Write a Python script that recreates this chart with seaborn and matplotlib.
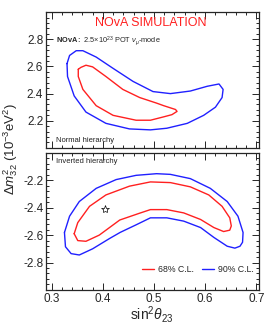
import numpy as np
import pandas as pd
import matplotlib
matplotlib.use("Agg")
import matplotlib.pyplot as plt
import matplotlib.ticker as ticker
import seaborn as sns

# Contours (sin^2 theta23, dm^2_32)
nh90_x = [0.330, 0.335, 0.348, 0.361, 0.387, 0.420, 0.459, 0.498, 0.532, 0.571, 0.604, 0.627, 0.635, 0.633,
          0.620, 0.597, 0.565, 0.525, 0.493, 0.452, 0.406, 0.367, 0.344, 0.331]
nh90_y = [2.621, 2.681, 2.716, 2.716, 2.669, 2.586, 2.490, 2.415, 2.400, 2.419, 2.454, 2.471, 2.431, 2.371,
          2.300, 2.240, 2.181, 2.145, 2.133, 2.140, 2.181, 2.264, 2.383, 2.526]
nh68_x = [0.352, 0.357, 0.367, 0.380, 0.406, 0.439, 0.472, 0.505, 0.519, 0.542, 0.545, 0.535, 0.519, 0.493,
          0.465, 0.420, 0.387, 0.361, 0.352]
nh68_y = [2.579, 2.593, 2.609, 2.597, 2.526, 2.431, 2.371, 2.330, 2.311, 2.283, 2.269, 2.245, 2.229, 2.204,
          2.204, 2.240, 2.311, 2.431, 2.526]

ih90_x = [0.325, 0.335, 0.354, 0.387, 0.426, 0.465, 0.505, 0.532, 0.571, 0.610, 0.643, 0.664, 0.674, 0.673,
          0.668, 0.658, 0.643, 0.617, 0.591, 0.558, 0.525, 0.493, 0.465, 0.434, 0.413, 0.380, 0.354, 0.338,
          0.327]
ih90_y = [-2.581, -2.462, -2.355, -2.259, -2.195, -2.164, -2.152, -2.157, -2.188, -2.259, -2.355, -2.462,
          -2.581, -2.652, -2.681, -2.695, -2.681, -2.617, -2.545, -2.498, -2.474, -2.474, -2.525, -2.580,
          -2.625, -2.700, -2.745, -2.735, -2.685]
ih68_x = [0.344, 0.351, 0.374, 0.406, 0.452, 0.493, 0.532, 0.571, 0.607, 0.633, 0.648, 0.651, 0.648, 0.636,
          0.617, 0.591, 0.558, 0.525, 0.493, 0.472, 0.433, 0.393, 0.367, 0.351]
ih68_y = [-2.590, -2.509, -2.390, -2.307, -2.243, -2.212, -2.217, -2.248, -2.307, -2.390, -2.474, -2.533,
          -2.564, -2.574, -2.545, -2.486, -2.438, -2.414, -2.414, -2.440, -2.490, -2.600, -2.645, -2.640]

best_fit_x = [0.405]
best_fit_y = [-2.409]

x_ticks = [0.3, 0.4, 0.5, 0.6, 0.7]
nh_ticks = [2.2, 2.4, 2.6, 2.8]
ih_ticks = [-2.8, -2.6, -2.4, -2.2]

sns.set_style("ticks")
plt.rcParams["font.family"] = ["Liberation Sans", "DejaVu Sans"]
plt.rcParams["mathtext.fontset"] = "custom"
plt.rcParams["mathtext.rm"] = "Liberation Sans"
plt.rcParams["mathtext.it"] = "Liberation Sans:italic"
plt.rcParams["mathtext.bf"] = "Liberation Sans:bold"
plt.rcParams["axes.unicode_minus"] = False

fig = plt.figure(figsize=(2.74, 3.28), dpi=100)
ax1 = fig.add_axes([0.168, 0.549, 0.777, 0.414])
ax2 = fig.add_axes([0.168, 0.116, 0.777, 0.418])


def closed(xs, ys):
    return pd.DataFrame({"x": list(xs) + [xs[0]], "y": list(ys) + [ys[0]]})


red = "#ff2020"
blue = "#2020ff"

d = closed(nh68_x, nh68_y)
sns.lineplot(data=d, x="x", y="y", sort=False, estimator=None, color=red, lw=1.0, ax=ax1)
d = closed(nh90_x, nh90_y)
sns.lineplot(data=d, x="x", y="y", sort=False, estimator=None, color=blue, lw=1.0, ax=ax1)

d = closed(ih68_x, ih68_y)
sns.lineplot(data=d, x="x", y="y", sort=False, estimator=None, color=red, lw=1.0, ax=ax2, label="68% C.L.")
d = closed(ih90_x, ih90_y)
sns.lineplot(data=d, x="x", y="y", sort=False, estimator=None, color=blue, lw=1.0, ax=ax2, label="90% C.L.")
ax2.plot(best_fit_x, best_fit_y, marker="*", ms=6, mfc="none", mec="black", mew=0.5, ls="none")

for ax in (ax1, ax2):
    ax.set_xlim(0.289, 0.705)
    ax.set_xticks(x_ticks)
    ax.xaxis.set_minor_locator(ticker.MultipleLocator(0.02))
    ax.yaxis.set_minor_locator(ticker.MultipleLocator(0.04))
    ax.tick_params(which="both", direction="in", top=True, right=True, labelsize=8.5, width=0.7, pad=2)
    ax.tick_params(which="major", length=5)
    ax.tick_params(which="minor", length=2.5)
    ax.set_xlabel("")
    ax.set_ylabel("")
    for s in ax.spines.values():
        s.set_linewidth(0.9)

ax1.set_ylim(2.0, 3.0)
ax1.set_yticks(nh_ticks)
ax1.tick_params(labelbottom=False)
ax2.set_ylim(-3.0, -2.0)
ax2.set_yticks(ih_ticks)
ax2.xaxis.set_major_formatter(ticker.FormatStrFormatter("%.1f"))

ax1.text(0.493, 0.919, "NOvA SIMULATION", color=red, fontsize=9, ha="center", va="center", transform=ax1.transAxes)
ax1.text(0.045, 0.787, r"$\mathbf{NOvA:}$ 2.5$\times$10$^{23}$ POT $\nu_{\mu}$-mode", fontsize=5.3,
         ha="left", va="center", transform=ax1.transAxes)
ax1.text(0.045, 0.055, "Normal hierarchy", fontsize=5.5, ha="left", va="center", color="#222222",
         transform=ax1.transAxes)
ax2.text(0.045, 0.94, "Inverted hierarchy", fontsize=5.5, ha="left", va="center", color="#222222",
         transform=ax2.transAxes)

ax2.legend(loc="lower right", bbox_to_anchor=(1.0, 0.08), ncol=2, frameon=False, fontsize=6.3,
           handlelength=1.4, handletextpad=0.4, columnspacing=1.0, borderaxespad=0.2)

fig.text(0.555, 0.042, r"sin$^2\theta_{23}$", fontsize=10, ha="center", va="center")
fig.text(0.038, 0.545, r"$\Delta m^2_{32}$ (10$^{-3}$eV$^2$)", fontsize=9.5, ha="center", va="center",
         rotation=90)

fig.savefig("out.png", dpi=100)
